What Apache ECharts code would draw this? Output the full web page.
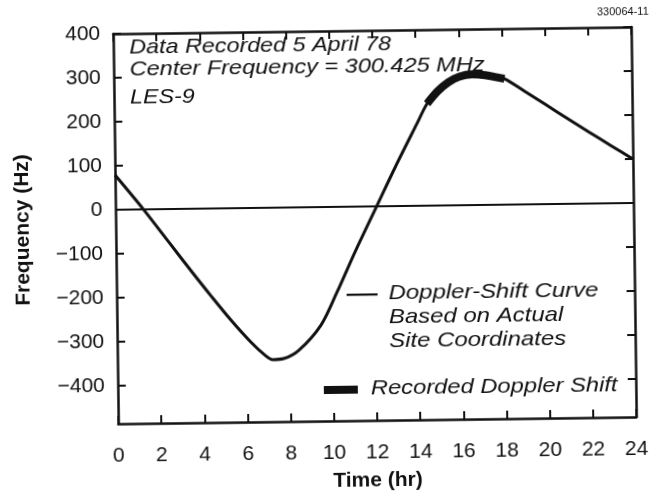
<!DOCTYPE html>
<html>
<head>
<meta charset="utf-8">
<script src="https://cdn.jsdelivr.net/npm/echarts@6/dist/echarts.min.js"></script>
<style>
  html, body { margin: 0; padding: 0; background: #fff; overflow: hidden; }
  /* the printed figure sits slightly askew on the page */
  #chart { width: 653px; height: 497px; transform: rotate(-0.75deg); transform-origin: 50% 50%; }
</style>
</head>
<body>
<div id="chart"></div>
<script>
// Doppler-shift curve (hours, Hz)
const times  = [0, 1.3, 2.5, 3.5, 4.4, 5.3, 6.2, 6.8, 7.2, 7.7, 8.4, 9.45, 10.2, 11.1, 12.1, 13.0, 14.0, 14.5, 15.0, 15.5, 16.0, 16.6, 17.2, 17.7, 18.1, 19.0, 20.0, 21.0, 22.0, 23.0, 24.0];
const values = [79, 0, -78, -143, -200, -255, -305, -333, -345, -343, -325, -268, -195, -100, 0, 90, 185, 232, 260, 280, 292, 297, 295, 290, 286, 258, 226, 194, 162, 131, 100];

// Span of the recorded data (hours)
const recordedStart = 14.5;
const recordedEnd = 18.1;

const yTicks = [-400, -300, -200, -100, 0, 100, 200, 300, 400];

const headerLines = ['Data Recorded 5 April 78', 'Center Frequency = 300.425 MHz', 'LES-9'];
const curveLegend = ['Doppler-Shift Curve', 'Based on Actual', 'Site Coordinates'];
const recordedLegend = 'Recorded Doppler Shift';

const curveData = times.map((t, i) => [t, values[i]]);
const recordedData = curveData.filter(p => p[0] >= recordedStart && p[0] <= recordedEnd);

const FONT = 'Liberation Sans, Arial, Helvetica, sans-serif';
const BLACK = '#111';

const chart = echarts.init(document.getElementById('chart'), null, { renderer: 'canvas' });

function xAxisDef(pos, showLabels) {
  return {
    type: 'value', position: pos, min: 0, max: 24, interval: 2,
    axisLine: { show: true, onZero: false, lineStyle: { color: BLACK, width: 2.5 } },
    axisTick: { show: true, inside: true, length: 8, lineStyle: { color: BLACK, width: 2 } },
    axisLabel: { show: showLabels, color: BLACK, fontFamily: FONT, fontSize: 21, margin: 22 },
    splitLine: { show: false },
    name: showLabels ? 'Time (hr)' : '',
    nameLocation: 'middle', nameGap: 50,
    nameTextStyle: { color: BLACK, fontFamily: FONT, fontSize: 21, fontWeight: 'bold' }
  };
}
function yAxisDef(pos, showLabels) {
  return {
    type: 'value', position: pos, min: -486, max: 400,
    axisLine: { show: true, onZero: false, lineStyle: { color: BLACK, width: 2.5 } },
    axisTick: { show: true, inside: true, length: 8, customValues: yTicks, lineStyle: { color: BLACK, width: 2 } },
    axisLabel: {
      show: showLabels, customValues: yTicks, color: BLACK, fontFamily: FONT, fontSize: 21, margin: 13,
      formatter: v => (v < 0 ? '\u2212' + Math.abs(v) : String(v))
    },
    splitLine: { show: false },
    name: showLabels ? 'Frequency (Hz)' : '',
    nameLocation: 'middle', nameGap: 82,
    nameTextStyle: { color: BLACK, fontFamily: FONT, fontSize: 21, fontWeight: 'bold' }
  };
}

// italic annotation text, set a little wide like the printed face
function note(text, left, top, sx) {
  return {
    type: 'text', left: left, top: top, scaleX: sx, originX: 0,
    style: { text: text, fill: BLACK, fontFamily: FONT, fontSize: 21, fontStyle: 'italic' }
  };
}

chart.setOption({
  backgroundColor: '#fff',
  animation: false,
  grid: { left: 116, right: 19, top: 31, bottom: 76, containLabel: false },
  xAxis: [xAxisDef('bottom', true), xAxisDef('top', false)],
  yAxis: [yAxisDef('left', true), yAxisDef('right', false)],
  series: [
    {
      name: 'Doppler-Shift Curve',
      type: 'line', xAxisIndex: 0, yAxisIndex: 0,
      data: curveData, smooth: 0.3, showSymbol: false,
      lineStyle: { color: BLACK, width: 3 },
      markLine: {
        silent: true, symbol: 'none', label: { show: false },
        lineStyle: { color: BLACK, width: 2.2, type: 'solid' },
        data: [{ yAxis: 0 }]
      },
      z: 3
    },
    {
      name: recordedLegend,
      type: 'line', xAxisIndex: 0, yAxisIndex: 0,
      data: recordedData, smooth: 0.3, showSymbol: false,
      lineStyle: { color: BLACK, width: 8, cap: 'butt' },
      z: 4
    }
  ],
  graphic: [
    { type: 'text', left: 600, top: 10, style: { text: '330064-11', fill: BLACK, fontFamily: FONT, fontSize: 11 } },
    note(headerLines[0], 132, 35, 1.11),
    note(headerLines[1], 132, 57, 1.12),
    note(headerLines[2], 132, 85, 1.11),
    // curve legend sample and label
    { type: 'rect', left: 346, top: 294, shape: { width: 31, height: 2.2 }, style: { fill: BLACK } },
    note(curveLegend[0], 388, 284, 1.14),
    note(curveLegend[1], 388, 308, 1.14),
    note(curveLegend[2], 388, 332, 1.14),
    // recorded legend sample and label
    { type: 'rect', left: 322, top: 386, shape: { width: 34, height: 8 }, style: { fill: BLACK } },
    note(recordedLegend, 369, 379, 1.13)
  ]
});
</script>
</body>
</html>
